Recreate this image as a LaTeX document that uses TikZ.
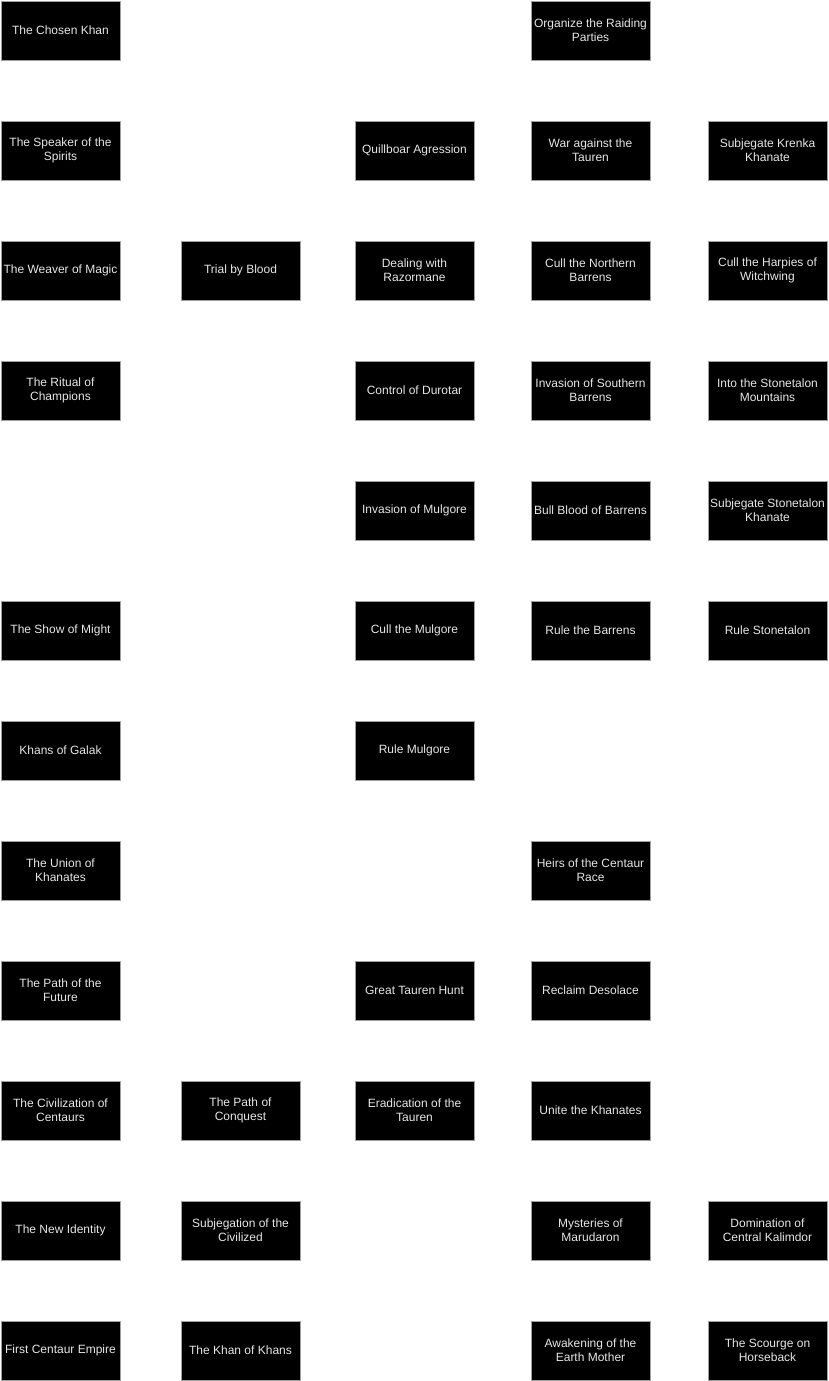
\documentclass[tikz,border=0pt]{standalone}
\usepackage{fontspec}
\setmainfont{Liberation Sans}
\definecolor{boxtext}{HTML}{E6E6E6}
\definecolor{boxline}{HTML}{A0A0A0}
\begin{document}
\begin{tikzpicture}[x=1pt,y=-1pt,
  quest/.style={draw=boxline,line width=0.8pt,fill=black,text=boxtext,
    minimum width=119pt,minimum height=59pt,inner sep=0pt,align=center,
    font=\fontsize{12pt}{14pt}\selectfont}]
\useasboundingbox (0,0) rectangle (828,1381);
\def\ca{60.5}\def\cb{240.5}\def\cc{414.5}\def\cd{590.5}\def\ce{767.5}
% row 0
\node[quest] (a0) at (\ca,30.5) {The Chosen Khan};
\node[quest] (d0) at (\cd,30.5) {Organize the Raiding\\Parties};
% row 1
\node[quest] (a1) at (\ca,150.5) {The Speaker of the\\Spirits};
\node[quest] (c1) at (\cc,150.5) {Quillboar Agression};
\node[quest] (d1) at (\cd,150.5) {War against the\\Tauren};
\node[quest] (e1) at (\ce,150.5) {Subjegate Krenka\\Khanate};
% row 2
\node[quest] (a2) at (\ca,270.5) {The Weaver of Magic};
\node[quest] (b2) at (\cb,270.5) {Trial by Blood};
\node[quest] (c2) at (\cc,270.5) {Dealing with\\Razormane};
\node[quest] (d2) at (\cd,270.5) {Cull the Northern\\Barrens};
\node[quest] (e2) at (\ce,270.5) {Cull the Harpies of\\Witchwing};
% row 3
\node[quest] (a3) at (\ca,390.5) {The Ritual of\\Champions};
\node[quest] (c3) at (\cc,390.5) {Control of Durotar};
\node[quest] (d3) at (\cd,390.5) {Invasion of Southern\\Barrens};
\node[quest] (e3) at (\ce,390.5) {Into the Stonetalon\\Mountains};
% row 4
\node[quest] (c4) at (\cc,510.5) {Invasion of Mulgore};
\node[quest] (d4) at (\cd,510.5) {Bull Blood of Barrens};
\node[quest] (e4) at (\ce,510.5) {Subjegate Stonetalon\\Khanate};
% row 5
\node[quest] (a5) at (\ca,630.5) {The Show of Might};
\node[quest] (c5) at (\cc,630.5) {Cull the Mulgore};
\node[quest] (d5) at (\cd,630.5) {Rule the Barrens};
\node[quest] (e5) at (\ce,630.5) {Rule Stonetalon};
% row 6
\node[quest] (a6) at (\ca,750.5) {Khans of Galak};
\node[quest] (c6) at (\cc,750.5) {Rule Mulgore};
% row 7
\node[quest] (a7) at (\ca,870.5) {The Union of\\Khanates};
\node[quest] (d7) at (\cd,870.5) {Heirs of the Centaur\\Race};
% row 8
\node[quest] (a8) at (\ca,990.5) {The Path of the\\Future};
\node[quest] (c8) at (\cc,990.5) {Great Tauren Hunt};
\node[quest] (d8) at (\cd,990.5) {Reclaim Desolace};
% row 9
\node[quest] (a9) at (\ca,1110.5) {The Civilization of\\Centaurs};
\node[quest] (b9) at (\cb,1110.5) {The Path of\\Conquest};
\node[quest] (c9) at (\cc,1110.5) {Eradication of the\\Tauren};
\node[quest] (d9) at (\cd,1110.5) {Unite the Khanates};
% row 10
\node[quest] (a10) at (\ca,1230.5) {The New Identity};
\node[quest] (b10) at (\cb,1230.5) {Subjegation of the\\Civilized};
\node[quest] (d10) at (\cd,1230.5) {Mysteries of\\Marudaron};
\node[quest] (e10) at (\ce,1230.5) {Domination of\\Central Kalimdor};
% row 11
\node[quest] (a11) at (\ca,1350.5) {First Centaur Empire};
\node[quest] (b11) at (\cb,1350.5) {The Khan of Khans};
\node[quest] (d11) at (\cd,1350.5) {Awakening of the\\Earth Mother};
\node[quest] (e11) at (\ce,1350.5) {The Scourge on\\Horseback};
\end{tikzpicture}
\end{document}
